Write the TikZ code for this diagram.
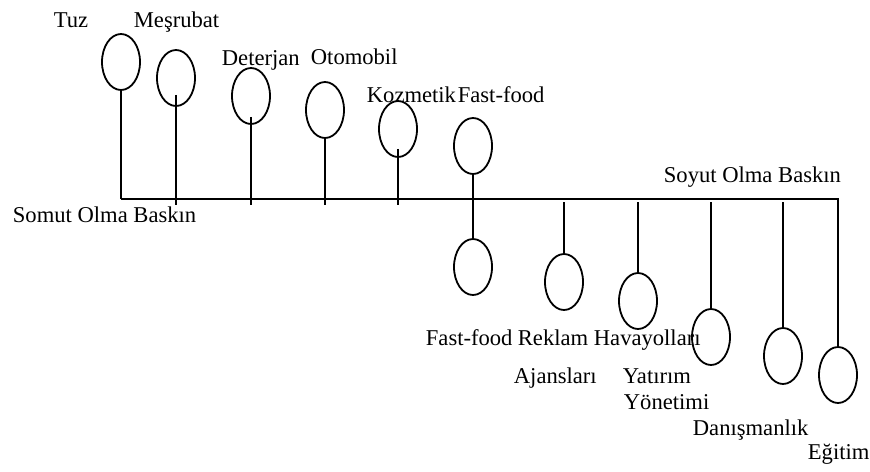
\documentclass[tikz,border=0pt]{standalone}
\usepackage{fontspec}
\setmainfont{Liberation Serif}
\usetikzlibrary{shapes.geometric}

\tikzset{
  bubble/.style={draw, ellipse, minimum width=19pt, minimum height=28pt, inner sep=0pt},
  lbl/.style={anchor=base west, inner sep=0pt, font=\fontsize{11.3}{13}\selectfont},
}

\begin{document}
\begin{tikzpicture}[x=0.5pt, y=-0.5pt, line width=0.9pt]
      \useasboundingbox (0,0) rectangle (870,471);

      \coordinate (somut) at (121,199); % left end of the axis
      \coordinate (soyut) at (839,199); % right end of the axis
      \coordinate (under) at (0,205);   % upper stems run a little past the axis
      \coordinate (over) at (0,202);    % lower stems start just under it
      \draw (somut) -- (soyut);
            \node[lbl] (somutlbl) at (12,222) {Somut Olma Baskın};
            \node[lbl] (soyutlbl) at (663,182) {Soyut Olma Baskın};

      % goods, hanging above the axis
      \node[bubble] (tuz) at (121,62) {};
            \node[lbl] (tuzlbl) at (53,27) {Tuz};
      \node[bubble] (mesrubat) at (176,78) {};
            \node[lbl] (mesrubatlbl) at (133,27) {Meşrubat};
      \node[bubble] (deterjan) at (251,96) {};
            \node[lbl] (deterjanlbl) at (221,65) {Deterjan};
      \node[bubble] (otomobil) at (325,110) {};
            \node[lbl] (otomobillbl) at (310,64) {Otomobil};
      \node[bubble] (kozmetik) at (398,129) {};
            \node[lbl] (kozmetiklbl) at (366,102) {Kozmetik};
      \node[bubble] (fastust) at (473,146) {};
            \node[lbl] (fastustlbl) at (kozmetiklbl.base east) {Fast-food};

      \draw (tuz.south) -- (somut);
      \draw ([yshift=6pt]mesrubat.south) -- (mesrubat.south |- under);
      \draw ([yshift=4pt]deterjan.south) -- (deterjan.south |- under);
      \draw (otomobil.south) -- (otomobil.south |- under);
      \draw ([yshift=4.5pt]kozmetik.south) -- (kozmetik.south |- under);

      % services, hanging below the axis
      \node[bubble] (fastalt) at (473,267) {};
            \node[lbl] (fastaltlbl) at (425,345) {Fast-food};
      \node[bubble] (reklam) at (564,282) {};
            \node[lbl] (reklamlbl) at (517,345) {Reklam};
            \node[lbl] (ajanslbl) at (513,383) {Ajansları};
      \node[bubble] (havayolu) at (638,301) {};
            \node[lbl] (havayolulbl) at (593,345) {Havayolları};
      \node[bubble] (yatirim) at (711,337) {};
            \node[lbl] (yatirimlbl) at (622,383) {Yatırım};
            \node[lbl] (yonetimlbl) at (623,409) {Yönetimi};
      \node[bubble] (danisma) at (783,356) {};
            \node[lbl] (danismalbl) at (692,435) {Danışmanlık};
      \node[bubble] (egitim) at (838,375) {};
            \node[lbl] (egitimlbl) at (807,459) {Eğitim};

      \draw (fastust.south) -- (fastalt.north); % fast-food sits on both sides
      \draw (reklam.north) -- (reklam.north |- over);
      \draw (havayolu.north) -- (havayolu.north |- over);
      \draw (yatirim.north) -- (yatirim.north |- over);
      \draw (danisma.north) -- (danisma.north |- over);
      \draw (egitim.north) -- (egitim.north |- soyut);
\end{tikzpicture}
\end{document}
